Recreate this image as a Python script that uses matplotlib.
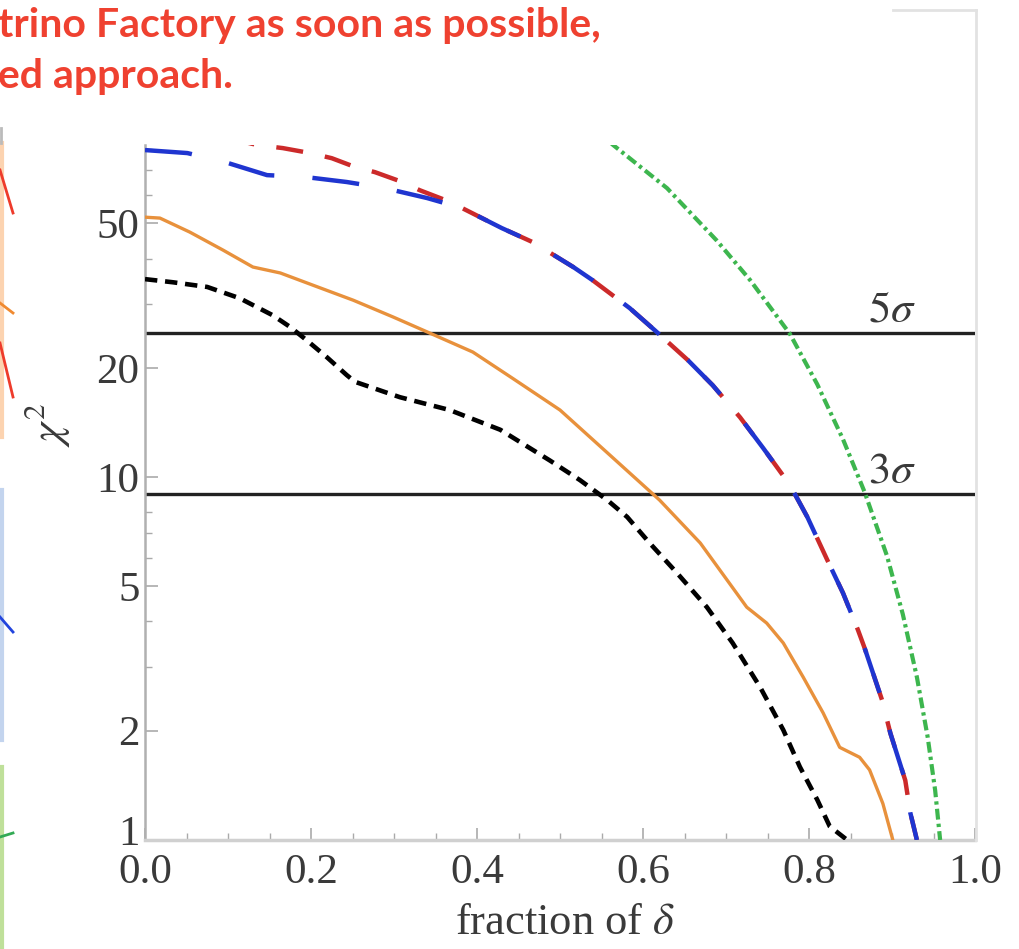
import matplotlib
matplotlib.use("Agg")
import matplotlib.pyplot as plt
import matplotlib.transforms as mtrans
from matplotlib.lines import Line2D
from matplotlib.ticker import FixedLocator, NullFormatter

plt.rcParams['mathtext.fontset'] = 'stix'

# ---------------- data ----------------
blue_x = [0.0, 0.051, 0.096, 0.147, 0.193, 0.243, 0.289, 0.340, 0.382, 0.430, 0.467,
          0.516, 0.539, 0.584, 0.614, 0.654, 0.684, 0.717, 0.745, 0.777, 0.798, 0.822,
          0.841, 0.859, 0.867, 0.888, 0.898, 0.916, 0.922, 0.930]
blue_y = [79.6, 78.1, 73.8, 67.9, 67.1, 65.0, 62.5, 58.7, 55.1, 48.5, 44.4,
          37.9, 34.9, 29.2, 25.4, 21.0, 17.9, 14.6, 12.0, 9.51, 7.76, 5.91,
          4.79, 3.79, 3.38, 2.43, 1.97, 1.46, 1.19, 1.0]

red_x = [0.10, 0.135, 0.166, 0.199, 0.225, 0.253, 0.277, 0.310, 0.331, 0.359, 0.382,
         0.430, 0.467, 0.516, 0.539, 0.584, 0.614, 0.654, 0.684, 0.717, 0.745, 0.777,
         0.798, 0.822, 0.841, 0.859, 0.867, 0.888, 0.898, 0.916, 0.922, 0.930]
red_y = [86.0, 82.2, 80.6, 78.1, 75.6, 71.5, 69.2, 65.0, 61.7, 58.3, 55.1,
         48.5, 44.4, 37.9, 34.9, 29.2, 25.4, 21.0, 17.9, 14.6, 12.0, 9.51,
         7.76, 5.91, 4.79, 3.79, 3.38, 2.43, 1.97, 1.46, 1.19, 1.0]

green_x = [0.540, 0.564, 0.629, 0.689, 0.729, 0.777, 0.810, 0.841, 0.867, 0.894,
           0.913, 0.930, 0.943, 0.952, 0.958]
green_y = [92.0, 82.2, 62.5, 44.8, 34.9, 24.8, 18.0, 12.7, 9.09, 6.06,
           4.19, 2.81, 1.92, 1.37, 1.0]

orange_x = [0.0, 0.018, 0.054, 0.094, 0.130, 0.163, 0.202, 0.251, 0.299, 0.335, 0.395,
            0.443, 0.500, 0.560, 0.620, 0.669, 0.725, 0.749, 0.769, 0.793, 0.817,
            0.837, 0.861, 0.873, 0.889, 0.901]
orange_y = [52.0, 51.7, 47.3, 42.2, 37.9, 36.5, 33.8, 30.7, 27.6, 25.4, 22.1,
            18.7, 15.3, 11.5, 8.64, 6.58, 4.38, 3.96, 3.49, 2.81, 2.24,
            1.80, 1.69, 1.56, 1.26, 1.0]

black_x = [0.0, 0.034, 0.075, 0.114, 0.154, 0.175, 0.195, 0.219, 0.243, 0.253, 0.307,
           0.367, 0.428, 0.488, 0.524, 0.557, 0.581, 0.608, 0.641, 0.677, 0.708,
           0.741, 0.769, 0.789, 0.810, 0.825, 0.846]
black_y = [35.1, 34.4, 33.4, 31.1, 27.9, 25.9, 23.8, 21.4, 19.1, 18.3, 16.6,
           15.3, 13.5, 11.1, 9.81, 8.64, 7.76, 6.58, 5.44, 4.38, 3.49,
           2.64, 2.01, 1.59, 1.29, 1.09, 1.0]

sigma_levels = [25, 9]
sigma_labels = [r"$5\sigma$", r"$3\sigma$"]

x_ticks = [0.0, 0.2, 0.4, 0.6, 0.8, 1.0]
x_ticklabels = ["0.0", "0.2", "0.4", "0.6", "0.8", "1.0"]
y_ticks = [1, 2, 5, 10, 20, 50]
y_ticklabels = ["1", "2", "5", "10", "20", "50"]
y_minor = [3, 4, 6, 7, 8, 9, 30, 40, 60, 70, 80]

headline = ["trino Factory as soon as possible,", "ed approach."]

# ---------------- figure ----------------
W, H = 1019, 949
fig = plt.figure(figsize=(W / 100, H / 100), dpi=100)

def fx(px):
    return px / W

def fy(py):
    return 1 - py / H

ax = fig.add_axes([fx(145), fy(840), fx(975) - fx(145), fy(145) - fy(840)])
ax.set_yscale('log')
ax.set_xlim(0, 1)
ax.set_ylim(1, 82.2)

serif = 'Liberation Serif'
txtcol = '#3a3a3a'

ax.plot(red_x, red_y, color='#cc2a2a', lw=3.2, dashes=(6.1, 5.0), zorder=3)
ax.plot(blue_x, blue_y, color='#1f35d0', lw=3.2, dashes=(10.6, 8.6), zorder=4)
ax.plot(green_x, green_y, color='#3db64e', lw=3.0, dashes=(2.6, 1.0, 0.8, 1.0), zorder=3)
ax.plot(orange_x, orange_y, color='#e8913c', lw=2.4, zorder=3)
ax.plot(black_x, black_y, color='black', lw=3.3, dashes=(2.7, 1.7), zorder=3)

for lev, lab in zip(sigma_levels, sigma_labels):
    ax.axhline(lev, color='#222222', lw=2.4, zorder=2)
    ax.text(0.9, lev * 1.075, lab, fontsize=32, color=txtcol, ha='center', va='baseline')

ax.set_xticks(x_ticks)
ax.set_xticklabels(x_ticklabels)
ax.xaxis.set_minor_locator(FixedLocator([i * 0.05 for i in range(21)]))
ax.yaxis.set_major_locator(FixedLocator(y_ticks))
ax.set_yticklabels(y_ticklabels)
ax.yaxis.set_minor_locator(FixedLocator(y_minor))
ax.yaxis.set_minor_formatter(NullFormatter())

ax.tick_params(which='both', direction='in', colors='#aaaaaa', labelcolor=txtcol,
               labelsize=31, top=False, right=False)
ax.tick_params(which='major', length=9, width=1.2)
ax.tick_params(which='minor', length=5, width=1.0)
ax.tick_params(axis='x', pad=10)
ax.tick_params(axis='y', pad=4)
for lbl in ax.get_xticklabels() + ax.get_yticklabels():
    lbl.set_fontfamily(serif)

# the "1" label sits just above the "0.0" label, as in the original
one_lbl = ax.yaxis.get_major_ticks()[0].label1
one_lbl.set_transform(one_lbl.get_transform() +
                      mtrans.ScaledTranslation(0, 10 / 100, fig.dpi_scale_trans))

ax.spines['top'].set_visible(False)
ax.spines['right'].set_visible(False)
ax.spines['left'].set_color('#b0b0b0')
ax.spines['left'].set_linewidth(1.8)
ax.spines['bottom'].set_color('#d0d0d0')
ax.spines['bottom'].set_linewidth(2.5)

ax.set_xlabel(r"fraction of $\delta$", fontsize=32, fontfamily=serif, color=txtcol,
              va='top')
ax.xaxis.set_label_coords(0.506, (840 - 903) / 695)
ax.set_ylabel(r"$\chi^2$", fontsize=32, color=txtcol, va='center')
ax.yaxis.set_label_coords((47 - 145) / 830, (840 - 425) / 695)

# image border of the inserted figure (light gray)
fig.add_artist(Line2D([fx(976), fx(976)], [fy(840), fy(10)], color='#e2e2e2', lw=2))
fig.add_artist(Line2D([fx(893), fx(976)], [fy(10), fy(10)], color='#e2e2e2', lw=2))

# fragments of the neighbouring slide figure at the left edge
fig.add_artist(Line2D([fx(2), fx(2)], [fy(143), fy(437)], color='#fcd3b0', lw=3))
fig.add_artist(Line2D([fx(2), fx(2)], [fy(490), fy(740)], color='#c3d4ee', lw=3))
fig.add_artist(Line2D([fx(2), fx(2)], [fy(767), fy(949)], color='#bfe09a', lw=3))
fig.add_artist(Line2D([fx(1), fx(1)], [fy(128), fy(143)], color='#bbbbbb', lw=2))
fig.add_artist(Line2D([fx(0), fx(13)], [fy(170), fy(213)], color='#ee3b2b', lw=2))
fig.add_artist(Line2D([fx(0), fx(13)], [fy(303), fy(313)], color='#f08a30', lw=2))
fig.add_artist(Line2D([fx(0), fx(13)], [fy(343), fy(397)], color='#ee3b2b', lw=2))
fig.add_artist(Line2D([fx(0), fx(13)], [fy(617), fy(632)], color='#2244dd', lw=2))
fig.add_artist(Line2D([fx(0), fx(13)], [fy(837), fy(833)], color='#33aa55', lw=2))

# headline text (cropped slide title)
fig.text(fx(-2), fy(37), headline[0], color='#ef4130', fontsize=29.5, fontweight='bold',
         fontfamily='Lato', ha='left', va='baseline')
fig.text(fx(-2), fy(88), headline[1], color='#ef4130', fontsize=29.5, fontweight='bold',
         fontfamily='Lato', ha='left', va='baseline')

fig.savefig("out.png", dpi=100)
